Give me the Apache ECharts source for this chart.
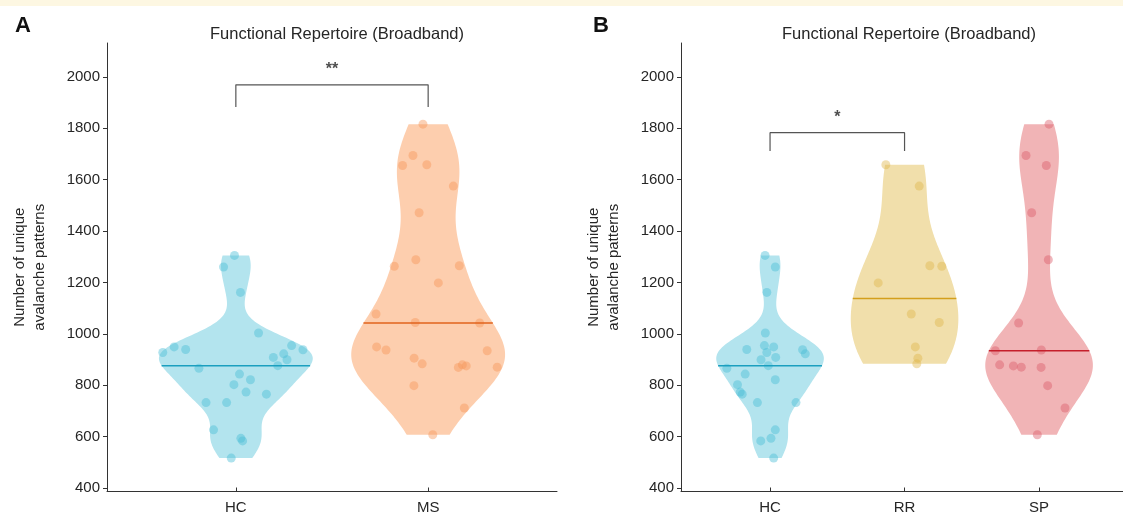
<!DOCTYPE html>
<html><head><meta charset="utf-8">
<script src="https://cdn.jsdelivr.net/npm/echarts@6/dist/echarts.min.js"></script>
<style>html,body{margin:0;padding:0;background:#fff}#c{width:1123px;height:516px}</style>
</head><body><div id="c"></div>
<script>
// ---------- data ----------
const panelTitle = 'Functional Repertoire (Broadband)';
const panelLetters = ['A', 'B'];
const yName = 'Number of unique\navalanche patterns';
const yTicks = [400, 600, 800, 1000, 1200, 1400, 1600, 1800, 2000];
const catsA = ['HC', 'MS'];
const catsB = ['HC', 'RR', 'SP'];

const hcValues = [1305,1260,1161,1003,954,949,939,938,927,922,908,899,876,866,843,821,802,773,765,732,732,626,593,583,516];
const hcJitterA = [-0.007,-0.064,0.024,0.118,0.290,-0.321,-0.261,0.349,-0.380,0.249,0.195,0.266,0.218,-0.192,0.019,0.076,-0.010,0.053,0.159,-0.155,-0.048,-0.116,0.026,0.035,-0.024];
const hcJitterB = [-0.037,0.039,-0.024,-0.035,-0.042,0.027,-0.173,0.242,-0.024,0.262,0.042,-0.067,-0.013,-0.321,-0.185,0.039,-0.242,-0.222,-0.207,-0.094,0.193,0.039,0.007,-0.069,0.027];

const msValues = [1816,1694,1655,1658,1575,1471,1288,1263,1265,1198,1077,1044,1042,949,937,905,883,934,869,879,875,870,798,711,607];
const msJitterA = [-0.027,-0.079,-0.133,-0.007,0.131,-0.047,-0.064,-0.176,0.162,0.053,-0.271,-0.067,0.268,-0.268,-0.219,-0.073,-0.031,0.307,0.157,0.178,0.198,0.359,-0.074,0.188,0.024];

const rrValues = [1658,1575,1265,1263,1198,1077,1044,949,905,883];
const rrJitter = [-0.139,0.109,0.188,0.277,-0.196,0.050,0.258,0.080,0.099,0.091];

const spValues = [1816,1694,1655,1471,1288,1042,934,937,879,875,870,869,798,711,607];
const spJitter = [0.074,-0.097,0.054,-0.055,0.069,-0.152,-0.325,0.017,-0.293,-0.191,-0.132,0.015,0.064,0.193,-0.013];

// significance brackets: [fromCat, toCat, topValue, legValue, labelValue]
const bracketA = [1, 2, 1969, 1883, 2027];
const bracketALabel = '**';
const bracketB = [1, 2, 1783, 1712, 1840];
const bracketBLabel = '*';

// ---------- styles ----------
const styleHC = {fill: '#b3e4ee', dot: 'rgba(72,190,214,0.55)', line: '#1b9fbf'};
const styleMS = {fill: '#fdceae', dot: 'rgba(246,150,88,0.55)', line: '#e0631c'};
const styleRR = {fill: '#f1dfab', dot: 'rgba(222,182,74,0.55)', line: '#d49f1c'};
const styleSP = {fill: '#f1b4b6', dot: 'rgba(218,92,104,0.55)', line: '#c51f2b'};
const VW = 0.4; // violin half-width in category units
const FONT = 'Liberation Sans, Arial, Helvetica, sans-serif';
const TXT = '#262626';

// ---------- helpers ----------
function median(a) { const s = a.slice().sort((x, y) => x - y); const n = s.length; return n % 2 ? s[(n - 1) / 2] : (s[n / 2 - 1] + s[n / 2]) / 2; }
function violinShape(vals, center) {
  const n = vals.length, m = median(vals);
  const sig = median(vals.map(v => Math.abs(v - m))) / 0.6745;
  const bw = sig * Math.pow(4 / (3 * n), 0.2);
  const lo = Math.min(...vals), hi = Math.max(...vals);
  const N = 150, ys = [], ds = [];
  const dens = y => { let s = 0; for (const v of vals) { const u = (y - v) / bw; s += Math.exp(-0.5 * u * u); } return s; };
  for (let i = 0; i <= N; i++) { const y = lo + (hi - lo) * i / N; ys.push(y); ds.push(dens(y)); }
  const mx = Math.max(...ds);
  const right = ys.map((y, i) => [center + ds[i] / mx * VW, y]);
  const left = ys.map((y, i) => [center - ds[i] / mx * VW, y]).reverse();
  return {poly: right.concat(left), halfAt: y => dens(y) / mx * VW, med: m};
}

const series = [];
function addGroup(vals, jit, center, st, gi) {
  const v = violinShape(vals, center);
  series.push({type: 'custom', xAxisIndex: gi, yAxisIndex: gi, silent: true, z: 1, data: [[center, v.med]],
    renderItem: (p, api) => ({type: 'polygon', shape: {points: v.poly.map(q => api.coord(q))}, style: {fill: st.fill}})});
  series.push({type: 'scatter', xAxisIndex: gi, yAxisIndex: gi, silent: true, z: 3, symbolSize: 9,
    itemStyle: {color: st.dot}, data: vals.map((y, i) => [center + jit[i], y])});
  const w = v.halfAt(v.med);
  series.push({type: 'line', xAxisIndex: gi, yAxisIndex: gi, silent: true, z: 4, symbol: 'none',
    lineStyle: {color: st.line, width: 1.5}, data: [[center - w, v.med], [center + w, v.med]]});
}
function addBracket(b, label, gi) {
  series.push({type: 'line', xAxisIndex: gi, yAxisIndex: gi, silent: true, z: 5, symbol: 'none',
    lineStyle: {color: '#555', width: 1.2}, data: [[b[0], b[3]], [b[0], b[2]], [b[1], b[2]], [b[1], b[3]]]});
  series.push({type: 'scatter', xAxisIndex: gi, yAxisIndex: gi, silent: true, z: 5, symbolSize: 1,
    itemStyle: {color: 'rgba(0,0,0,0)'}, data: [[(b[0] + b[1]) / 2, b[4]]],
    label: {show: true, position: 'inside', formatter: label, fontFamily: FONT, fontSize: 16, fontWeight: 'bold', color: '#222'}});
}

addGroup(hcValues, hcJitterA, 1, styleHC, 0);
addGroup(msValues, msJitterA, 2, styleMS, 0);
addGroup(hcValues, hcJitterB, 1, styleHC, 1);
addGroup(rrValues, rrJitter, 2, styleRR, 1);
addGroup(spValues, spJitter, 3, styleSP, 1);
addBracket(bracketA, bracketALabel, 0);
addBracket(bracketB, bracketBLabel, 1);

function xAxis(gi, cats, min, max) {
  const vals = cats.map((c, i) => i + 1);
  return {type: 'value', gridIndex: gi, min, max,
    axisLine: {show: true, lineStyle: {color: '#333', width: 1}},
    axisTick: {show: true, inside: true, length: 4, customValues: vals, lineStyle: {color: '#333'}},
    axisLabel: {show: true, customValues: vals, formatter: v => cats[Math.round(v) - 1] || '', margin: 9,
      fontFamily: FONT, fontSize: 15, color: TXT},
    splitLine: {show: false}};
}
function yAxis(gi) {
  return {type: 'value', gridIndex: gi, min: 386, max: 2132,
    name: yName, nameLocation: 'middle', nameGap: 57, nameRotate: 90,
    nameTextStyle: {fontFamily: FONT, fontSize: 15, color: TXT, lineHeight: 20},
    axisLine: {show: true, lineStyle: {color: '#333', width: 1}},
    axisTick: {show: true, inside: false, length: 4, customValues: yTicks, lineStyle: {color: '#333'}},
    axisLabel: {show: true, customValues: yTicks, formatter: v => String(v), margin: 7, fontFamily: FONT, fontSize: 15, color: TXT},
    splitLine: {show: false}};
}

const chart = echarts.init(document.getElementById('c'), null, {renderer: 'canvas'});
chart.setOption({
  animation: false,
  backgroundColor: '#fff',
  graphic: [{type: 'rect', left: 0, top: 0, shape: {width: 1123, height: 6}, style: {fill: '#fdf7e2'}, silent: true}],
  title: [
    {text: panelTitle, left: 332, top: 21, textAlign: 'center', textStyle: {fontFamily: FONT, fontSize: 16.5, fontWeight: 'normal', color: TXT}},
    {text: panelTitle, left: 904, top: 21, textAlign: 'center', textStyle: {fontFamily: FONT, fontSize: 16.5, fontWeight: 'normal', color: TXT}},
    {text: panelLetters[0], left: 10, top: 10, textStyle: {fontFamily: FONT, fontSize: 22, fontWeight: 'bold', color: '#111'}},
    {text: panelLetters[1], left: 588, top: 10, textStyle: {fontFamily: FONT, fontSize: 22, fontWeight: 'bold', color: '#111'}}
  ],
  grid: [
    {left: 107, top: 43, width: 450, height: 448.5},
    {left: 681, top: 43, width: 442, height: 448.5}
  ],
  xAxis: [xAxis(0, catsA, 0.33, 2.67), xAxis(1, catsB, 0.338, 3.624)],
  yAxis: [yAxis(0), yAxis(1)],
  series
});
</script></body></html>
